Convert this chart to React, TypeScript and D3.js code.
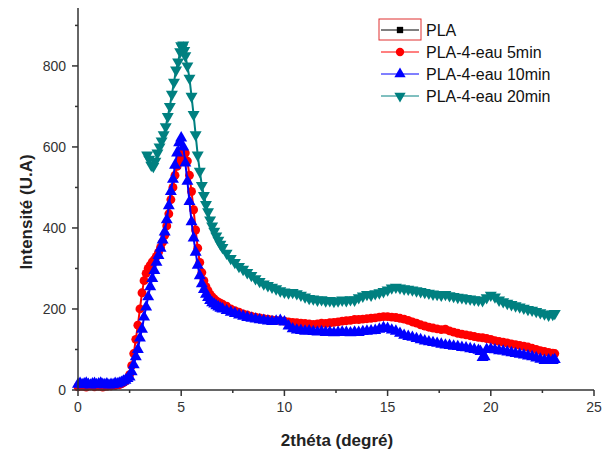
import React from "react";
import * as d3 from "d3";

const W = 616;
const H = 451;

const xTicks = [0, 5, 10, 15, 20, 25];
const xMinor = [2.5, 7.5, 12.5, 17.5, 22.5];
const yTicks = [0, 200, 400, 600, 800];
const yMinor = [100, 300, 500, 700, 900];

const seriesNames = ["PLA", "PLA-4-eau 5min", "PLA-4-eau 10min", "PLA-4-eau 20min"];
const seriesColors = ["#000000", "#ff0000", "#0000ff", "#008080"];

// PLA: only in legend
const pla: [number, number][] = [];

const eau5: [number, number][] = [
  [0.0, 8], [0.2, 9], [0.4, 7], [0.6, 10], [0.8, 8], [1.0, 9], [1.2, 7], [1.4, 9], [1.6, 10], [1.8, 11],
  [2.0, 13], [2.1, 15], [2.2, 18], [2.3, 22], [2.4, 28], [2.5, 38], [2.6, 60], [2.7, 90], [2.8, 125], [2.9, 160],
  [3.0, 200], [3.1, 240], [3.2, 270], [3.3, 288], [3.4, 300], [3.5, 308], [3.6, 316], [3.7, 322], [3.8, 330], [3.9, 340],
  [4.0, 352], [4.1, 365], [4.2, 382], [4.3, 405], [4.4, 435], [4.5, 470], [4.6, 500], [4.7, 530], [4.8, 552], [4.9, 565],
  [5.0, 578], [5.1, 588], [5.2, 585], [5.3, 565], [5.4, 530], [5.5, 490], [5.6, 445], [5.7, 395], [5.8, 350], [5.9, 315],
  [6.0, 290], [6.1, 270], [6.2, 255], [6.3, 245], [6.4, 236], [6.5, 230], [6.6, 225], [6.7, 220], [6.8, 217], [6.9, 214],
  [7.0, 212], [7.2, 207], [7.4, 200], [7.6, 196], [7.8, 192], [8.0, 188], [8.2, 185], [8.4, 182], [8.6, 180], [8.8, 178],
  [9.0, 176], [9.2, 175], [9.4, 173], [9.6, 172], [9.8, 171], [10.0, 170], [10.2, 168], [10.4, 167], [10.6, 166], [10.8, 165],
  [11.0, 164], [11.2, 163], [11.4, 162], [11.6, 163], [11.8, 165], [12.0, 164], [12.2, 166], [12.4, 167], [12.6, 168], [12.8, 170],
  [13.0, 171], [13.2, 172], [13.4, 174], [13.6, 174], [13.8, 175], [14.0, 176], [14.2, 177], [14.4, 178], [14.6, 180], [14.8, 181],
  [15.0, 181], [15.2, 180], [15.4, 179], [15.6, 177], [15.8, 175], [16.0, 172], [16.2, 168], [16.4, 165], [16.6, 161], [16.8, 158],
  [17.0, 155], [17.2, 153], [17.4, 151], [17.6, 149], [17.8, 150], [18.0, 146], [18.2, 143], [18.4, 140], [18.6, 138], [18.8, 136],
  [19.0, 134], [19.2, 132], [19.4, 130], [19.6, 129], [19.8, 127], [20.0, 125], [20.2, 122], [20.4, 120], [20.6, 118], [20.8, 116],
  [21.0, 114], [21.2, 112], [21.4, 110], [21.6, 108], [21.8, 106], [22.0, 103], [22.2, 100], [22.4, 97], [22.6, 95], [22.8, 93],
  [23.0, 91], [23.1, 90],
];

const eau10: [number, number][] = [
  [0.0, 14], [0.1, 16], [0.2, 13], [0.3, 15], [0.4, 17], [0.5, 14], [0.6, 12], [0.7, 15], [0.8, 16], [0.9, 13],
  [1.0, 15], [1.1, 17], [1.2, 14], [1.3, 13], [1.4, 15], [1.5, 12], [1.6, 14], [1.7, 13], [1.8, 16], [1.9, 15],
  [2.0, 17], [2.1, 19], [2.2, 22], [2.3, 24], [2.4, 28], [2.5, 32], [2.6, 45], [2.7, 62], [2.8, 82], [2.9, 100],
  [3.0, 128], [3.1, 150], [3.2, 180], [3.3, 205], [3.4, 230], [3.5, 255], [3.6, 275], [3.7, 295], [3.8, 315], [3.9, 332],
  [4.0, 350], [4.1, 370], [4.2, 390], [4.3, 420], [4.4, 455], [4.5, 490], [4.6, 520], [4.7, 555], [4.8, 585], [4.9, 610],
  [5.0, 622], [5.1, 600], [5.2, 560], [5.3, 515], [5.4, 465], [5.5, 415], [5.6, 375], [5.7, 340], [5.8, 308], [5.9, 282],
  [6.0, 262], [6.1, 248], [6.2, 236], [6.3, 228], [6.4, 221], [6.5, 215], [6.6, 212], [6.7, 208], [6.8, 205], [6.9, 202],
  [7.0, 200], [7.2, 196], [7.4, 192], [7.6, 189], [7.8, 185], [8.0, 182], [8.2, 179], [8.4, 177], [8.6, 175], [8.8, 173],
  [9.0, 172], [9.2, 170], [9.4, 169], [9.6, 170], [9.8, 172], [10.0, 168], [10.2, 158], [10.4, 151], [10.6, 148], [10.8, 147],
  [11.0, 145], [11.2, 146], [11.4, 144], [11.6, 143], [11.8, 144], [12.0, 142], [12.2, 143], [12.4, 141], [12.6, 142], [12.8, 143],
  [13.0, 142], [13.2, 141], [13.4, 143], [13.6, 142], [13.8, 144], [14.0, 145], [14.2, 146], [14.4, 147], [14.6, 150], [14.8, 154],
  [15.0, 152], [15.2, 148], [15.4, 145], [15.6, 140], [15.8, 135], [16.0, 132], [16.2, 130], [16.4, 127], [16.6, 124], [16.8, 121],
  [17.0, 119], [17.2, 117], [17.4, 115], [17.6, 113], [17.8, 111], [18.0, 110], [18.2, 108], [18.4, 107], [18.6, 105], [18.8, 104],
  [19.0, 102], [19.2, 100], [19.4, 98], [19.5, 95], [19.6, 80], [19.7, 82], [19.8, 100], [20.0, 101], [20.2, 99], [20.4, 97],
  [20.6, 96], [20.8, 94], [21.0, 92], [21.2, 90], [21.4, 88], [21.6, 86], [21.8, 84], [22.0, 82], [22.2, 79], [22.4, 76],
  [22.6, 73], [22.8, 74], [23.0, 73], [23.1, 75],
];

const eau20: [number, number][] = [
  [3.35, 580], [3.45, 570], [3.55, 555], [3.65, 552], [3.75, 565], [3.85, 585], [3.95, 600], [4.05, 615], [4.15, 630], [4.25, 650],
  [4.35, 675], [4.45, 700], [4.55, 730], [4.65, 760], [4.75, 790], [4.85, 810], [4.95, 835], [5.0, 850], [5.05, 845], [5.1, 852],
  [5.15, 838], [5.2, 825], [5.3, 800], [5.4, 770], [5.5, 725], [5.6, 680], [5.7, 630], [5.8, 580], [5.9, 540], [6.0, 505],
  [6.1, 480], [6.2, 458], [6.3, 440], [6.4, 420], [6.5, 405], [6.6, 392], [6.7, 380], [6.8, 370], [6.9, 360], [7.0, 352],
  [7.2, 338], [7.4, 325], [7.6, 315], [7.8, 305], [8.0, 298], [8.2, 290], [8.4, 283], [8.6, 275], [8.8, 268], [9.0, 262],
  [9.2, 258], [9.4, 254], [9.6, 250], [9.8, 245], [10.0, 242], [10.2, 240], [10.4, 241], [10.6, 238], [10.8, 234], [11.0, 230],
  [11.2, 226], [11.4, 225], [11.6, 222], [11.8, 223], [12.0, 220], [12.2, 221], [12.4, 219], [12.6, 220], [12.8, 222], [13.0, 221],
  [13.2, 223], [13.4, 222], [13.6, 228], [13.8, 232], [14.0, 236], [14.2, 234], [14.4, 238], [14.6, 240], [14.8, 243], [15.0, 247],
  [15.2, 252], [15.4, 254], [15.6, 252], [15.8, 250], [16.0, 249], [16.2, 247], [16.4, 245], [16.6, 243], [16.8, 241], [17.0, 239],
  [17.2, 237], [17.4, 236], [17.6, 234], [17.8, 236], [18.0, 233], [18.2, 231], [18.4, 229], [18.6, 228], [18.8, 226], [19.0, 225],
  [19.2, 223], [19.4, 222], [19.6, 221], [19.8, 228], [20.0, 234], [20.2, 230], [20.4, 222], [20.6, 218], [20.8, 214], [21.0, 211],
  [21.2, 208], [21.4, 205], [21.6, 202], [21.8, 199], [22.0, 197], [22.2, 194], [22.4, 191], [22.6, 188], [22.8, 185], [23.0, 187],
  [23.1, 189],
];

const seriesData = [pla, eau5, eau10, eau20];
const symbolTypes = [d3.symbolSquare, d3.symbolCircle, d3.symbolTriangle, d3.symbolTriangle];
const symbolRot = [0, 0, 0, 180];
const symbolSizes = [40, 62, 62, 62];

const axisColor = "#333";
const font = "Arial, 'Liberation Sans', sans-serif";

export default function App() {
  const x = d3.scaleLinear().domain([0, 25]).range([78, 594]);
  const y = d3.scaleLinear().domain([0, 943]).range([390, 8]);
  const line = d3
    .line<[number, number]>()
    .x((d) => x(d[0]))
    .y((d) => y(d[1]));

  const drawOrder = [1, 2, 3];

  return (
    <svg
      width={W}
      height={H}
      style={{ position: "absolute", left: 0, top: 0, background: "#fff" }}
      fontFamily={font}
    >
      <rect x={0} y={0} width={W} height={H} fill="#fff" />
      {/* series */}
      {drawOrder.map((si) => {
        const data = seriesData[si];
        const sym = d3.symbol().type(symbolTypes[si]).size(symbolSizes[si])();
        return (
          <g key={si}>
            <path d={line(data) || ""} fill="none" stroke={seriesColors[si]} strokeWidth={2} />
            {data.map((d, i) => (
              <path
                key={i}
                d={sym || ""}
                fill={seriesColors[si]}
                transform={`translate(${x(d[0])},${y(d[1])}) rotate(${symbolRot[si]})`}
              />
            ))}
          </g>
        );
      })}

      {/* axes */}
      <line x1={x(0)} x2={x(25)} y1={y(0)} y2={y(0)} stroke={axisColor} strokeWidth={1.5} />
      <line x1={x(0)} x2={x(0)} y1={y(0)} y2={y(943)} stroke={axisColor} strokeWidth={1.5} />
      {xTicks.map((t) => (
        <g key={"xt" + t}>
          <line x1={x(t)} x2={x(t)} y1={y(0)} y2={y(0) + 6} stroke={axisColor} strokeWidth={1.5} />
          <text x={x(t)} y={y(0) + 22} textAnchor="middle" fontSize={14} fill="#333">
            {t}
          </text>
        </g>
      ))}
      {xMinor.map((t) => (
        <line key={"xm" + t} x1={x(t)} x2={x(t)} y1={y(0)} y2={y(0) + 3} stroke={axisColor} strokeWidth={1.5} />
      ))}
      {yTicks.map((t) => (
        <g key={"yt" + t}>
          <line x1={x(0) - 6} x2={x(0)} y1={y(t)} y2={y(t)} stroke={axisColor} strokeWidth={1.5} />
          <text x={x(0) - 12} y={y(t) + 5} textAnchor="end" fontSize={14} fill="#333">
            {t}
          </text>
        </g>
      ))}
      {yMinor.map((t) => (
        <line key={"ym" + t} x1={x(0) - 3} x2={x(0)} y1={y(t)} y2={y(t)} stroke={axisColor} strokeWidth={1.5} />
      ))}

      {/* axis titles */}
      <text x={337} y={446} textAnchor="middle" fontSize={17} fontWeight="bold" fill="#222">
        2théta (degré)
      </text>
      <text
        transform="translate(32,212) rotate(-90)"
        textAnchor="middle"
        fontSize={17}
        fontWeight="bold"
        fill="#222"
      >
        Intensité (U.A)
      </text>

      {/* legend */}
      {seriesNames.map((name, i) => {
        const cy = 30 + i * 22;
        const sym = d3.symbol().type(symbolTypes[i]).size(i === 0 ? 40 : 55)();
        return (
          <g key={"lg" + i}>
            {i === 0 && (
              <rect x={379} y={cy - 11} width={42} height={21} fill="none" stroke="#e03030" strokeWidth={1} />
            )}
            <line x1={381} x2={419} y1={cy} y2={cy} stroke={seriesColors[i]} strokeWidth={1} />
            <path d={sym || ""} fill={seriesColors[i]} transform={`translate(400,${cy}) rotate(${symbolRot[i]})`} />
            <text x={426} y={cy + 6} fontSize={16} fill="#111">
              {name}
            </text>
          </g>
        );
      })}
    </svg>
  );
}
